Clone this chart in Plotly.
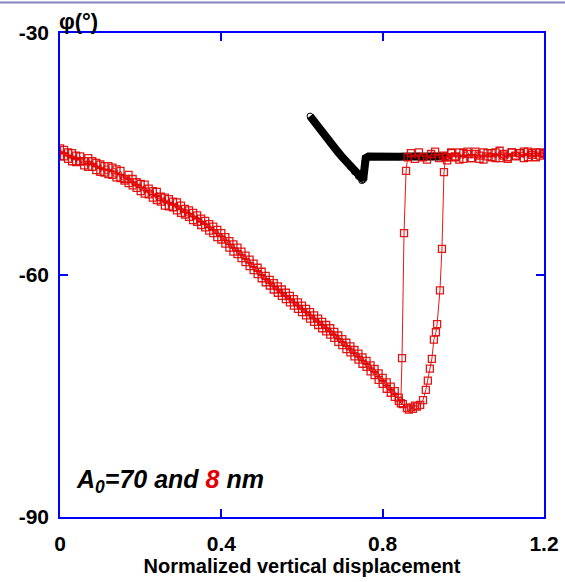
import plotly.graph_objects as go

# ---------------- data ----------------
x_desc_a = [0.00, 0.01, 0.02, 0.03, 0.04, 0.05, 0.06, 0.07, 0.08, 0.09,
            0.10, 0.11, 0.12, 0.13, 0.14, 0.15, 0.16, 0.17, 0.18, 0.19,
            0.20, 0.21, 0.22, 0.23, 0.24, 0.25, 0.26, 0.27, 0.28, 0.29,
            0.30, 0.31, 0.32, 0.33, 0.34, 0.35, 0.36, 0.37, 0.38, 0.39,
            0.40, 0.41, 0.42, 0.43, 0.44, 0.45, 0.46, 0.47, 0.48, 0.49,
            0.50, 0.51, 0.52, 0.53, 0.54, 0.55, 0.56, 0.57, 0.58, 0.59,
            0.60, 0.61, 0.62, 0.63, 0.64, 0.65, 0.66, 0.67, 0.68, 0.69,
            0.70, 0.71, 0.72, 0.73, 0.74, 0.75, 0.76, 0.77, 0.78, 0.79,
            0.80, 0.81, 0.82, 0.83, 0.84,
            0.845, 0.848, 0.853, 0.858, 0.862,
            0.87, 0.88, 0.89, 0.90, 0.91, 0.92, 0.93, 0.94, 0.95, 0.96,
            0.97, 0.98, 0.99, 1.00, 1.01, 1.02, 1.03, 1.04, 1.05, 1.06,
            1.07, 1.08, 1.09, 1.10, 1.11, 1.12, 1.13, 1.14, 1.15, 1.16,
            1.17, 1.18, 1.19, 1.20]
phi_a = [-44.3, -45.3, -44.8, -45.9, -45.2, -45.9, -46.4, -45.5, -46.6, -46.1,
         -47.2, -46.5, -46.5, -47.6, -47.9, -47.1, -48.1, -47.6, -48.9, -48.5,
         -49.6, -48.8, -50.0, -50.4, -49.7, -50.3, -51.4, -50.6, -51.6, -51.0,
         -52.3, -51.8, -52.0, -53.2, -52.6, -53.8, -53.3, -54.5, -54.0, -55.3,
         -54.8, -56.1, -55.8, -57.1, -56.6, -57.9, -57.6, -58.9, -58.6, -59.9,
         -59.6, -60.9, -60.6, -61.8, -61.4, -62.6, -62.2, -63.4, -63.0, -64.2,
         -63.8, -65.0, -64.6, -65.8, -65.4, -66.6, -66.2, -67.4, -67.05, -68.3,
         -67.95, -69.2, -68.85, -70.1, -69.75, -71.0, -70.65, -71.95, -71.65, -73.0,
         -72.75, -74.1, -73.85, -75.1, -75.2,
         -75.9, -70.3, -54.8, -47.1, -45.4,
         -44.9, -45.6, -44.8, -45.4, -45.7, -45.0, -44.7, -45.5, -45.2, -45.8,
         -44.9, -45.4, -44.8, -45.6, -45.0, -45.5, -44.7, -45.2, -45.7, -44.9,
         -45.4, -44.8, -45.5, -45.0, -45.6, -44.8, -45.2, -44.9, -45.5, -44.7,
         -45.1, -45.4, -44.8, -45.0]

x_r = [0.00, 0.01, 0.02, 0.03, 0.04, 0.05, 0.06, 0.07, 0.08, 0.09,
       0.10, 0.11, 0.12, 0.13, 0.14, 0.15, 0.16, 0.17, 0.18, 0.19,
       0.20, 0.21, 0.22, 0.23, 0.24, 0.25, 0.26, 0.27, 0.28, 0.29,
       0.30, 0.31, 0.32, 0.33, 0.34, 0.35, 0.36, 0.37, 0.38, 0.39,
       0.40, 0.41, 0.42, 0.43, 0.44, 0.45, 0.46, 0.47, 0.48, 0.49,
       0.50, 0.51, 0.52, 0.53, 0.54, 0.55, 0.56, 0.57, 0.58, 0.59,
       0.60, 0.61, 0.62, 0.63, 0.64, 0.65, 0.66, 0.67, 0.68, 0.69,
       0.70, 0.71, 0.72, 0.73, 0.74, 0.75, 0.76, 0.77, 0.78, 0.79,
       0.80, 0.81, 0.82, 0.83, 0.84, 0.85, 0.86, 0.865, 0.87, 0.875,
       0.88, 0.885, 0.893, 0.900, 0.907, 0.912, 0.917, 0.922, 0.927, 0.932,
       0.935, 0.942, 0.947, 0.952, 0.956,
       0.96, 0.97, 0.98, 0.99, 1.00, 1.01, 1.02, 1.03, 1.04, 1.05,
       1.06, 1.07, 1.08, 1.09, 1.10, 1.11, 1.12, 1.13, 1.14, 1.15,
       1.16, 1.17, 1.18, 1.19, 1.20]
phi_r = [-45.3, -44.5, -45.6, -44.9, -46.0, -45.3, -45.9, -46.6, -45.9, -47.0,
         -46.3, -47.3, -47.5, -46.7, -46.9, -48.0, -48.3, -48.6, -48.1, -49.2,
         -48.7, -49.9, -49.3, -49.6, -50.7, -50.9, -50.4, -51.5, -50.9, -52.0,
         -51.4, -52.5, -52.8, -52.3, -53.4, -53.0, -54.1, -53.7, -54.8, -54.4,
         -55.6, -55.3, -56.6, -56.2, -57.4, -57.1, -58.4, -58.1, -59.4, -59.1,
         -60.4, -60.1, -61.3, -61.0, -62.2, -61.8, -63.0, -62.6, -63.8, -63.4,
         -64.6, -64.2, -65.4, -65.0, -66.2, -65.8, -67.0, -66.6, -67.8, -67.5,
         -68.7, -68.4, -69.6, -69.3, -70.5, -70.2, -71.4, -71.2, -72.4, -72.2,
         -73.5, -73.3, -74.6, -74.4, -75.6, -76.0, -76.5, -76.7, -76.4, -76.6,
         -76.2, -76.3, -76.1, -75.5, -74.25, -73.1, -71.6, -70.4, -68.0, -67.1,
         -66.1, -61.9, -56.75, -47.25, -45.4,
         -45.4, -44.8, -45.3, -45.7, -44.9, -44.7, -45.5, -45.0, -45.6, -44.8,
         -45.3, -44.9, -45.5, -44.6, -45.2, -45.4, -44.8, -45.3, -44.9, -44.7,
         -45.4, -44.9, -44.8, -45.2, -44.9]

x_black = [0.620, 0.630, 0.640, 0.650, 0.660, 0.670, 0.680, 0.690, 0.700, 0.710,
           0.720, 0.730, 0.740, 0.748, 0.752, 0.753, 0.754, 0.755, 0.756, 0.758,
           0.765, 0.78, 0.80, 0.82, 0.84, 0.86, 0.88, 0.90, 0.92, 0.94, 0.96]
phi_black = [-40.3, -41.0, -41.6, -42.3, -42.9, -43.6, -44.2, -44.8, -45.4, -46.0,
             -46.6, -47.2, -47.8, -48.3, -48.2, -47.6, -47.0, -46.4, -45.9, -45.5,
             -45.3, -45.35, -45.3, -45.3, -45.35, -45.3, -45.3, -45.3, -45.25, -45.3, -45.3]

x_ticks = [0, 0.4, 0.8, 1.2]
x_tick_labels = ["0", "0.4", "0.8", "1.2"]
y_ticks = [-90, -60, -30]
y_tick_labels = ["-90", "-60", "-30"]

RED = "#e00000"
BLUE = "#0000ff"
FONT = "Liberation Sans, Arial, sans-serif"

fig = go.Figure()
fig.add_trace(go.Scatter(
    x=x_black, y=phi_black, mode="lines+markers",
    line=dict(color="black", width=8),
    marker=dict(symbol="circle-open", size=6, color="black", line=dict(width=1)),
    showlegend=False, hoverinfo="skip"))
for xs, ys in [(x_r, phi_r), (x_desc_a, phi_a)]:
    fig.add_trace(go.Scatter(
        x=xs, y=ys, mode="lines+markers",
        line=dict(color=RED, width=1),
        marker=dict(symbol="square-open", size=7, color=RED, line=dict(width=1.3)),
        opacity=0.9,
        showlegend=False, hoverinfo="skip"))

axis_common = dict(
    showline=True, linecolor=BLUE, linewidth=1.5, mirror="ticks",
    ticks="inside", ticklen=8, tickcolor=BLUE, tickwidth=1.5,
    showgrid=False, zeroline=False, automargin=False,
    tickfont=dict(family=FONT, size=21, color="black"),
)
fig.update_xaxes(range=[0, 1.2], tickvals=x_ticks,
                 ticktext=["<b>%s</b>" % t for t in x_tick_labels],
                 ticklabelstandoff=7,
                 title=dict(text="<b>Normalized vertical displacement</b>",
                            font=dict(family=FONT, size=20, color="black"),
                            standoff=3),
                 **axis_common)
fig.update_yaxes(range=[-90, -30], tickvals=y_ticks,
                 ticktext=["<b>%s</b>" % t for t in y_tick_labels],
                 ticklabelstandoff=5,
                 **axis_common)

fig.update_layout(
    width=565, height=582,
    margin=dict(l=60, r=21, t=33, b=65, autoexpand=False),
    paper_bgcolor="white", plot_bgcolor="white",
    annotations=[
        dict(text="<b>φ(°)</b>", xref="paper", yref="paper", x=-0.006, y=1.0,
             xanchor="left", yanchor="bottom", showarrow=False, yshift=-3,
             font=dict(family=FONT, size=22, color="black")),
        dict(text="<b><i>A<sub>0</sub>=70 and <span style='color:#e00000'>8</span> nm</i></b>",
             x=0.035, y=-85.5, xref="x", yref="y", xanchor="left", yanchor="middle",
             showarrow=False,
             font=dict(family=FONT, size=25, color="black")),
    ],
    shapes=[dict(type="line", xref="paper", yref="paper", layer="above",
                 x0=-0.2, x1=1.1, y0=1 + 30.5 / 484, y1=1 + 30.5 / 484,
                 line=dict(color="#8484c4", width=2))],
)

fig.write_html("out.html", config={"displayModeBar": False},
               post_script="document.body.style.margin='0';")
